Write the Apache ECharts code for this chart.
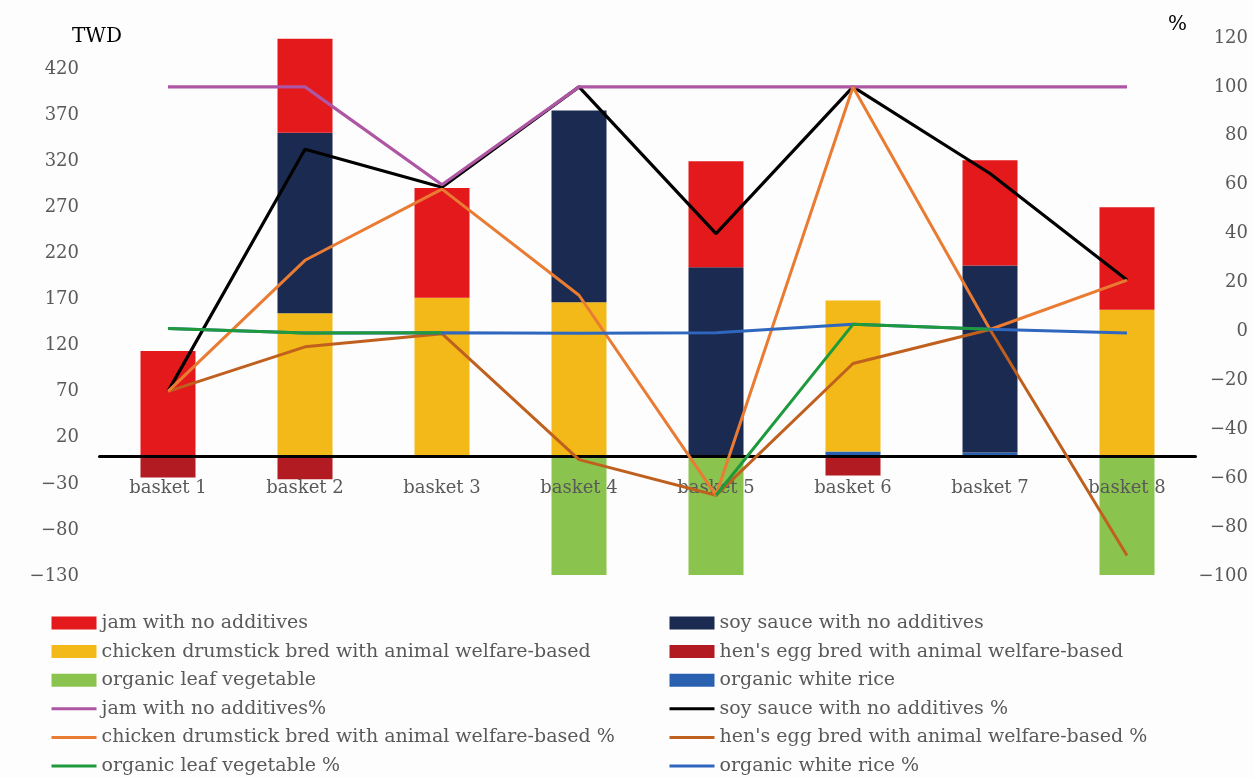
<!DOCTYPE html>
<html><head><meta charset="utf-8">
<script src="https://cdn.jsdelivr.net/npm/echarts@6/dist/echarts.min.js"></script>
<style>html,body{margin:0;padding:0;background:#fdfdfd}#c{width:1253px;height:778px}</style>
</head><body><div id="c"></div>
<script>
const categories = ['basket 1','basket 2','basket 3','basket 4','basket 5','basket 6','basket 7','basket 8'];
const leftTicks = [-130,-80,-30,20,70,120,170,220,270,320,370,420];
const rightTicks = [-100,-80,-60,-40,-20,0,20,40,60,80,100,120];

// TWD values (stacked bars)
const jamTWD     = [114, 102, 119, 0, 115, 0, 114, 111];
const soyTWD     = [0, 196, 0, 208, 205, 0, 203, 0];
const chickenTWD = [0, 155, 172, 167, 0, 164, 0, 159];
const eggTWD     = [-23, -25, 0, 0, 0, -21, 0, 0];
const leafTWD    = [0, 0, 0, -129, -129, 0, 0, -129];
const riceTWD    = [0, 0, 0, 0, 0, 5, 4, 0];

// percentage values (lines)
const jamPct     = [100, 100, 60, 100, 100, 100, 100, 100];
const soyPct     = [-24.5, 74.5, 59, 100, 40, 100, 64.6, 21];
const chickenPct = [-24.5, 29.1, 58.2, 14.8, -67, 100, 0.8, 21];
const eggPct     = [-24.5, -6.3, -0.9, -52.4, -67, -13.1, 0.8, -91.6];
const leafPct    = [1.2, -0.6, -0.5, null, -67, 2.9, 0.9, null];
const ricePct    = [1.2, -0.6, -0.5, -0.7, -0.5, 2.9, 0.9, -0.6];

const N = {
  jam: 'jam with no additives', soy: 'soy sauce with no additives',
  chicken: 'chicken drumstick bred with animal welfare-based', egg: "hen's egg bred with animal welfare-based",
  leaf: 'organic leaf vegetable', rice: 'organic white rice',
  jamP: 'jam with no additives%', soyP: 'soy sauce with no additives %',
  chickenP: 'chicken drumstick bred with animal welfare-based %', eggP: "hen's egg bred with animal welfare-based %",
  leafP: 'organic leaf vegetable %', riceP: 'organic white rice %'
};
const FONT = 'DejaVu Serif';
const GRAY = '#595959';
const minus = v => String(v).replace('-', '\u2212');

function bar(name, data, color) {
  return { name, type: 'bar', stack: 'twd', data, barWidth: 55, z: 1, itemStyle: { color }, yAxisIndex: 0 };
}
function line(name, data, color, w) {
  return { name, type: 'line', data, yAxisIndex: 1, symbol: 'none', showSymbol: false, z: 3,
    lineStyle: { color, width: w }, itemStyle: { color }, connectNulls: false };
}
const legendText = { fontFamily: FONT, fontSize: 19, color: GRAY, lineHeight: 20 };
const rectItem = name => ({ name, icon: 'rect' });
const lineItem = name => ({ name, itemStyle: { opacity: 0 }, lineStyle: { width: 3 } });
const legendBase = { top: 613, orient: 'vertical', padding: 0, itemWidth: 45, itemHeight: 13, itemGap: 8.6,
  selectedMode: false, textStyle: legendText };

const chart = echarts.init(document.getElementById('c'), null, { renderer: 'canvas' });
chart.setOption({
  animation: false,
  backgroundColor: '#fdfdfd',
  grid: { left: 99.5, right: 57.5, top: 38, bottom: 202, containLabel: false },
  legend: [
    Object.assign({ left: 50, data: [rectItem(N.jam), rectItem(N.chicken), rectItem(N.leaf),
      lineItem(N.jamP), lineItem(N.chickenP), lineItem(N.leafP)] }, legendBase),
    Object.assign({ left: 668, data: [rectItem(N.soy), rectItem(N.egg), rectItem(N.rice),
      lineItem(N.soyP), lineItem(N.eggP), lineItem(N.riceP)] }, legendBase)
  ],
  xAxis: {
    type: 'category', data: categories, boundaryGap: true, z: 2,
    axisLine: { onZero: true, lineStyle: { color: '#000', width: 3 } },
    axisTick: { show: false },
    axisLabel: { fontFamily: FONT, fontSize: 18, color: GRAY, margin: -97 }
  },
  yAxis: [
    { type: 'value', min: leftTicks[0], max: 453.7, interval: leftTicks[1] - leftTicks[0],
      axisLine: { show: false }, axisTick: { show: false }, splitLine: { show: false },
      axisLabel: { fontFamily: FONT, fontSize: 18, color: GRAY, margin: 20.5, showMaxLabel: false, formatter: minus } },
    { type: 'value', position: 'right', min: rightTicks[0], max: rightTicks[rightTicks.length - 1],
      interval: rightTicks[1] - rightTicks[0],
      axisLine: { show: false }, axisTick: { show: false }, splitLine: { show: false },
      axisLabel: { fontFamily: FONT, fontSize: 18, color: GRAY, margin: 52.5, align: 'right', formatter: minus } }
  ],
  graphic: [
    { type: 'text', left: 72, top: 27, style: { text: 'TWD', font: '20px "DejaVu Serif"', fill: '#000' } },
    { type: 'text', left: 1168, top: 15, style: { text: '%', font: '20px "DejaVu Serif"', fill: '#000' } }
  ],
  series: [
    bar(N.rice, riceTWD, '#2A60B0'),
    bar(N.leaf, leafTWD, '#8BC34F'),
    bar(N.egg, eggTWD, '#B31B23'),
    bar(N.chicken, chickenTWD, '#F2B918'),
    bar(N.soy, soyTWD, '#1B2A50'),
    bar(N.jam, jamTWD, '#E3191B'),
    line(N.soyP, soyPct, '#000000', 3.2),
    line(N.jamP, jamPct, '#AE55A3', 3.2),
    line(N.eggP, eggPct, '#C0601E', 3),
    line(N.chickenP, chickenPct, '#E97B33', 3),
    line(N.riceP, ricePct, '#2F67BF', 3),
    line(N.leafP, leafPct, '#1E9A3C', 3)
  ]
});
</script></body></html>
